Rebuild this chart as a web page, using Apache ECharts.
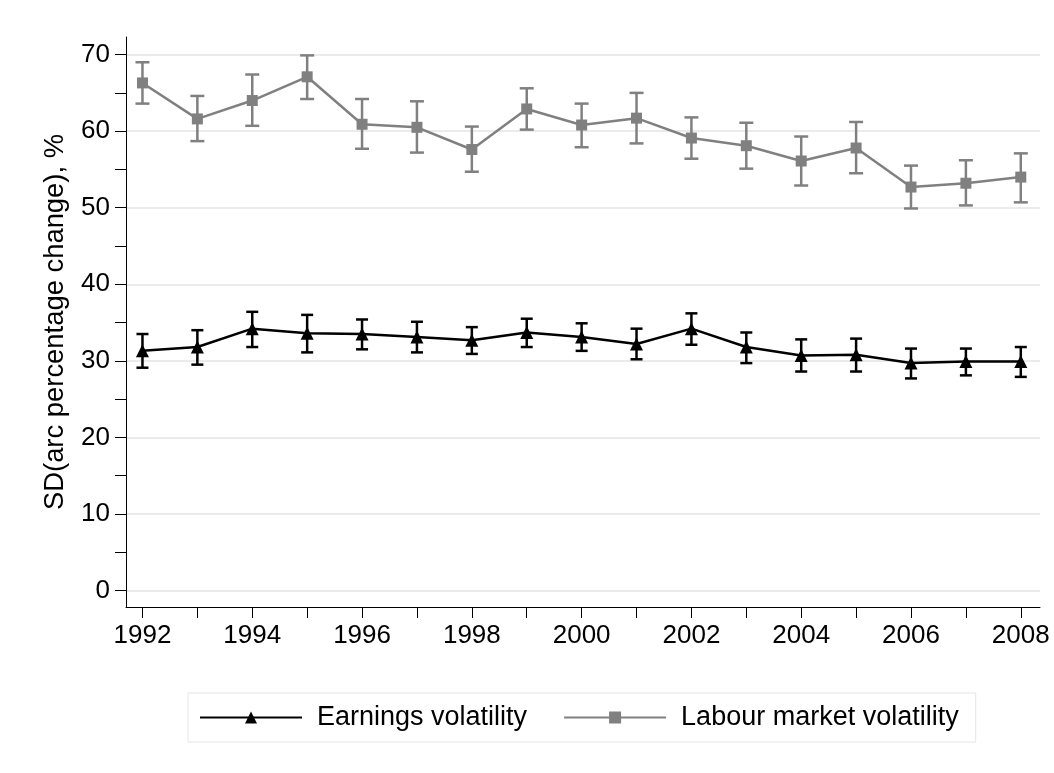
<!DOCTYPE html>
<html>
<head>
<meta charset="utf-8">
<script src="https://cdn.jsdelivr.net/npm/echarts@6/dist/echarts.min.js"></script>
<style>
html,body{margin:0;padding:0;background:#fff;}
#chart{width:1054px;height:773px;}
</style>
</head>
<body>
<div id="chart"></div>
<script>
const years = [1992,1993,1994,1995,1996,1997,1998,1999,2000,2001,2002,2003,2004,2005,2006,2007,2008];
const xTickValues = [1992,1993,1994,1995,1996,1997,1998,1999,2000,2001,2002,2003,2004,2005,2006,2007,2008];
const xLabelValues = [1992,1994,1996,1998,2000,2002,2004,2006,2008];
const yTickValues = [0,5,10,15,20,25,30,35,40,45,50,55,60,65,70];
const yLabelValues = [0,10,20,30,40,50,60,70];

const earnings      = [31.3,31.8,34.2,33.6,33.5,33.1,32.7,33.7,33.1,32.2,34.2,31.8,30.7,30.8,29.7,29.9,29.9];
const earningsLow   = [29.1,29.5,31.8,31.1,31.5,31.1,30.9,31.8,31.3,30.2,32.1,29.7,28.6,28.6,27.7,28.1,27.9];
const earningsHigh  = [33.5,34.0,36.4,36.0,35.4,35.1,34.4,35.5,34.9,34.2,36.2,33.7,32.8,32.9,31.6,31.6,31.8];

const labour        = [66.3,61.6,64.0,67.1,60.9,60.5,57.6,62.9,60.8,61.7,59.1,58.1,56.1,57.8,52.7,53.2,54.0];
const labourLow     = [63.6,58.7,60.7,64.2,57.7,57.2,54.7,60.2,57.9,58.4,56.4,55.1,52.9,54.5,49.9,50.3,50.7];
const labourHigh    = [69.0,64.6,67.4,69.9,64.2,63.9,60.6,65.6,63.6,65.0,61.8,61.1,59.3,61.2,55.5,56.2,57.1];

const FONT = '"Liberation Sans", Arial, sans-serif';

function errData(lo, hi){ return years.map((y,i)=>[y, lo[i], hi[i]]); }
function errRender(color, cap, lw){
  return function(params, api){
    const x = api.value(0), lo = api.value(1), hi = api.value(2);
    const a = api.coord([x, lo]), b = api.coord([x, hi]);
    const st = {stroke: color, lineWidth: lw};
    return {type:'group', children:[
      {type:'line', shape:{x1:a[0],y1:a[1],x2:b[0],y2:b[1]}, style:st},
      {type:'line', shape:{x1:a[0]-cap,y1:a[1],x2:a[0]+cap,y2:a[1]}, style:st},
      {type:'line', shape:{x1:b[0]-cap,y1:b[1],x2:b[0]+cap,y2:b[1]}, style:st}
    ]};
  };
}

const chart = echarts.init(document.getElementById('chart'), null, {renderer:'canvas'});
chart.setOption({
  backgroundColor:'#fff',
  animation:false,
  textStyle:{fontFamily:FONT},
  grid:{left:126, right:14, top:37, bottom:166, containLabel:false},
  legend:{
    data:['Earnings volatility','Labour market volatility'],
    left:188, top:693,
    padding:[11,17,11,11],
    borderColor:'#e6e6e6', borderWidth:1,
    itemWidth:102, itemHeight:15, itemGap:36,
    textStyle:{fontSize:27, color:'#000', fontFamily:FONT, padding:[0,0,0,10]}
  },
  xAxis:{
    type:'value', min:1991.70, max:2008.35,
    axisLine:{show:true, onZero:false, lineStyle:{color:'#000', width:1}},
    axisTick:{show:true, length:11, lineStyle:{color:'#000', width:1}, customValues:xTickValues},
    axisLabel:{show:true, fontSize:26, color:'#000', fontFamily:FONT, margin:16, customValues:xLabelValues, formatter:v=>String(v)},
    splitLine:{show:false}
  },
  yAxis:[{
    type:'value', min:-2.16, max:72.3,
    name:'SD(arc percentage change), %',
    nameLocation:'middle', nameGap:57, nameRotate:90,
    nameTextStyle:{fontSize:27.4, color:'#000', fontFamily:FONT},
    axisLine:{show:true, onZero:false, lineStyle:{color:'#000', width:1}},
    axisTick:{show:true, length:11, lineStyle:{color:'#000', width:1}, customValues:yTickValues},
    axisLabel:{show:true, fontSize:26, color:'#000', fontFamily:FONT, margin:16, customValues:yLabelValues},
    splitLine:{show:false}
  },{
    type:'value', min:-2.16, max:72.3, position:'left',
    axisLine:{show:false}, axisLabel:{show:false},
    axisTick:{show:false, customValues:yLabelValues},
    splitLine:{show:true, lineStyle:{color:'#ebebeb', width:2}}
  }],
  series:[
    {name:'labourErr', type:'custom', data:errData(labourLow, labourHigh), renderItem:errRender('#808080',7,2.5), z:2, silent:true},
    {name:'earnErr', type:'custom', data:errData(earningsLow, earningsHigh), renderItem:errRender('#000',6,2.5), z:2, silent:true},
    {name:'Labour market volatility', type:'line', data:years.map((y,i)=>[y,labour[i]]),
      symbol:'rect', symbolSize:11, showSymbol:true,
      lineStyle:{color:'#808080', width:2.5}, itemStyle:{color:'#808080'}, z:3},
    {name:'Earnings volatility', type:'line', data:years.map((y,i)=>[y,earnings[i]]),
      symbol:'triangle', symbolSize:13, showSymbol:true,
      lineStyle:{color:'#000', width:2.5}, itemStyle:{color:'#000'}, z:4}
  ]
});
</script>
</body>
</html>
